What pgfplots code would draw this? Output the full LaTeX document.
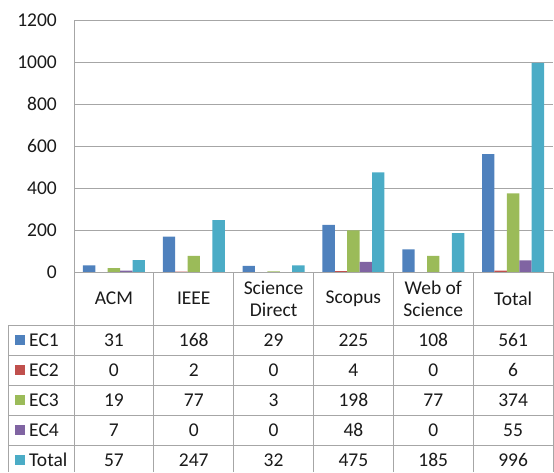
\documentclass[border=0pt]{standalone}
\usepackage{pgfplots}
\usepackage{pgfplotstable}
\pgfplotsset{compat=1.18}
\usepackage{fontspec}
\setmainfont{Carlito}
\definecolor{cA}{HTML}{4F81BD}
\definecolor{cB}{HTML}{C0504D}
\definecolor{cC}{HTML}{9BBB59}
\definecolor{cD}{HTML}{8064A2}
\definecolor{cE}{HTML}{4BACC6}
\definecolor{gl}{HTML}{A6A6A6}
\definecolor{tx}{HTML}{1A1A1A}
\pgfplotstableread{
x EC1 EC2 EC3 EC4 Total
0 31 0 19 7 57
1 168 2 77 0 247
2 29 0 3 0 32
3 225 4 198 48 475
4 108 0 77 0 185
5 561 6 374 55 996
}\data
\begin{document}
\fontsize{19.5}{23}\selectfont
\begin{tikzpicture}
\useasboundingbox (0pt,0pt) rectangle (554pt,-472pt);
\begin{axis}[
  at={(74pt,-272pt)}, anchor=south west,
  scale only axis, width=479pt, height=252pt,
  xmin=-0.5, xmax=5.5, ymin=0, ymax=1200,
  ytick={0,200,...,1200}, xtick=\empty,
  axis lines=left, axis line style={draw=none},
  major tick length=0pt,
  ymajorgrids, grid style={gl, line width=1pt},
  /pgf/number format/assume math mode=true,
  /pgf/number format/1000 sep={},
  yticklabel style={font=\fontsize{19.5}{23}\selectfont, text=tx, inner sep=0pt, xshift=-17pt},
  ybar=0pt, bar width=12.4pt,
  clip=false,
]
\addplot[fill=cA, draw=none] table[x=x,y=EC1]{\data};
\addplot[fill=cB, draw=none] table[x=x,y=EC2]{\data};
\addplot[fill=cC, draw=none] table[x=x,y=EC3]{\data};
\addplot[fill=cD, draw=none] table[x=x,y=EC4]{\data};
\addplot[fill=cE, draw=none] table[x=x,y=Total]{\data};
\end{axis}
\begin{scope}[x=1pt,y=-1pt]
  \draw[gl, line width=1pt] (74,20) -- (74,472);
  \draw[gl, line width=1pt] (74,272) -- (553,272);
  \draw[gl, line width=1pt] (553,272) -- (553,472);
  \draw[gl, line width=1pt] (8,325) -- (8,472);
  \foreach \yy in {325,355,385,415,445} \draw[gl, line width=1pt] (8,\yy) -- (553,\yy);
  \foreach \k in {1,...,5} \draw[gl, line width=1pt] ({74+79.833*\k},272) -- ({74+79.833*\k},472);
  % header
  \foreach [count=\k from 0] \nm in {ACM,IEEE,{Science\\Direct},Scopus,{Web of\\Science},Total}
    \node[text=tx, align=center, inner sep=0pt, font=\fontsize{19.5}{22}\selectfont] at ({74+79.833*(\k+0.5)},298.5) {\nm};
  % legend column
  \foreach [count=\j from 0] \sname/\col in {EC1/cA,EC2/cB,EC3/cC,EC4/cD,Total/cE} {
    \fill[\col] (15,{335+30*\j}) rectangle (25,{345+30*\j});
    \node[text=tx, anchor=west, inner sep=0pt] at (29,{340+30*\j}) {\sname};
  }
  % values
  \foreach \r in {0,...,5} {
    \foreach [count=\j from 0] \c in {EC1,EC2,EC3,EC4,Total} {
      \pgfplotstablegetelem{\r}{\c}\of\data
      \node[text=tx, inner sep=0pt] at ({74+79.833*(\r+0.5)},{340+30*\j}) {\pgfplotsretval};
    }
  }
\end{scope}
\end{tikzpicture}
\end{document}
